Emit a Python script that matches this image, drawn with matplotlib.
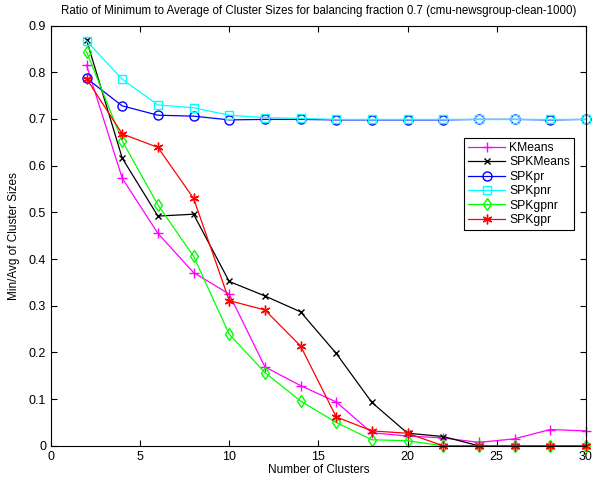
import matplotlib
matplotlib.use("Agg")
import matplotlib.pyplot as plt
from matplotlib.ticker import FuncFormatter

plt.rcParams['font.family'] = ['Liberation Sans', 'DejaVu Sans']

clusters = [2, 4, 6, 8, 10, 12, 14, 16, 18, 20, 22, 24, 26, 28, 30]

kmeans = [0.815, 0.573, 0.455, 0.371, 0.325, 0.169, 0.129, 0.094, 0.028, 0.021,
          0.017, 0.0075, 0.015, 0.035, 0.032]
spkmeans = [0.869, 0.616, 0.492, 0.496, 0.352, 0.321, 0.287, 0.198, 0.093, 0.027,
            0.020, 0.0, 0.0, 0.0, 0.0]
spkpr = [0.787, 0.728, 0.708, 0.706, 0.698, 0.699, 0.699, 0.698, 0.698, 0.698,
         0.698, 0.699, 0.699, 0.698, 0.699]
spkpnr = [0.867, 0.785, 0.730, 0.724, 0.708, 0.703, 0.701, 0.699, 0.699, 0.699,
          0.699, 0.699, 0.699, 0.699, 0.699]
spkgpnr = [0.844, 0.653, 0.516, 0.406, 0.239, 0.157, 0.096, 0.050, 0.013, 0.011,
           0.0, 0.0, 0.0, 0.0, 0.0]
spkgpr = [0.786, 0.668, 0.639, 0.530, 0.311, 0.291, 0.214, 0.062, 0.032, 0.027,
          0.0, 0.0, 0.0, 0.0, 0.0]

# matlab style asterisk marker
asterisk = (6, 2, 0)

series = [
    ("KMeans", kmeans, "#ff00ff", "+", 6.5),
    ("SPKMeans", spkmeans, "black", "x", 4.5),
    ("SPKpr", spkpr, "#0000ff", "o", 6.5),
    ("SPKpnr", spkpnr, "#00ffff", "s", 5.5),
    ("SPKgpnr", spkgpnr, "#00ff00", "d", 6.5),
    ("SPKgpr", spkgpr, "#ff0000", asterisk, 7),
]

fig = plt.figure(figsize=(5.99, 4.82), dpi=100)
ax = fig.add_axes([0.085, 0.075, 0.893, 0.872])

for name, vals, color, marker, ms in series:
    ax.plot(clusters, vals, color=color, marker=marker, markersize=ms,
            markerfacecolor='none', markeredgecolor=color, markeredgewidth=1.0,
            linewidth=0.9, label=name, clip_on=False)

ax.set_xlim(0, 30)
ax.set_ylim(0, 0.9)
ax.set_xticks(range(0, 31, 5))
ax.set_yticks([i / 10 for i in range(10)])
ax.yaxis.set_major_formatter(FuncFormatter(lambda v, p: "0" if v == 0 else f"{v:g}"))
ax.tick_params(direction='in', length=4, labelsize=9, top=True, right=True)
for s in ax.spines.values():
    s.set_linewidth(0.8)

ax.set_xlabel("Number of Clusters", fontsize=8.5, labelpad=1)
ax.set_ylabel("Min/Avg of Cluster Sizes", fontsize=8.5, labelpad=6)
ax.set_title("Ratio of Minimum to Average of Cluster Sizes for balancing fraction 0.7 (cmu-newsgroup-clean-1000)",
             fontsize=8.3, pad=8)

leg = ax.legend(loc='upper right', bbox_to_anchor=(0.978, 0.733), fontsize=8.7,
                fancybox=False, framealpha=1, edgecolor='black', borderaxespad=0,
                borderpad=0.35, labelspacing=0.2, handlelength=3.1, handletextpad=0.3)
leg.get_frame().set_linewidth(0.8)

fig.savefig("out.png", dpi=100)
